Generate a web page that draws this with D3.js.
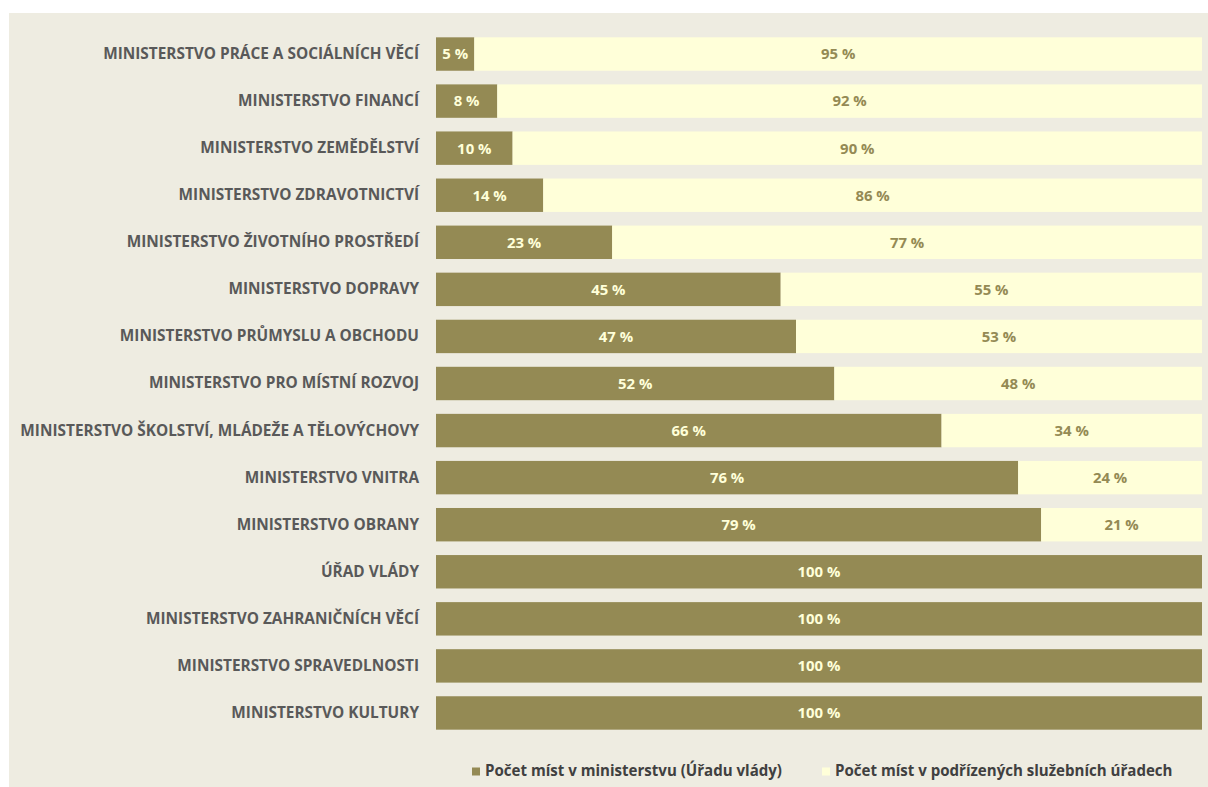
<!DOCTYPE html>
<html>
<head>
<meta charset="utf-8">
<script src="https://cdn.jsdelivr.net/npm/d3@7"></script>
<style>
  html, body { margin: 0; padding: 0; background: #ffffff; }
  svg { display: block; }
</style>
</head>
<body>
<svg id="chart" width="1208" height="787"></svg>
<script>
const categories = [
  "MINISTERSTVO PRÁCE A SOCIÁLNÍCH VĚCÍ",
  "MINISTERSTVO FINANCÍ",
  "MINISTERSTVO ZEMĚDĚLSTVÍ",
  "MINISTERSTVO ZDRAVOTNICTVÍ",
  "MINISTERSTVO ŽIVOTNÍHO PROSTŘEDÍ",
  "MINISTERSTVO DOPRAVY",
  "MINISTERSTVO PRŮMYSLU A OBCHODU",
  "MINISTERSTVO PRO MÍSTNÍ ROZVOJ",
  "MINISTERSTVO ŠKOLSTVÍ, MLÁDEŽE A TĚLOVÝCHOVY",
  "MINISTERSTVO VNITRA",
  "MINISTERSTVO OBRANY",
  "ÚŘAD VLÁDY",
  "MINISTERSTVO ZAHRANIČNÍCH VĚCÍ",
  "MINISTERSTVO SPRAVEDLNOSTI",
  "MINISTERSTVO KULTURY"
];
const ministryShare = [5, 8, 10, 14, 23, 45, 47, 52, 66, 76, 79, 100, 100, 100, 100];
const subordinateShare = [95, 92, 90, 86, 77, 55, 53, 48, 34, 24, 21, 0, 0, 0, 0];
const seriesNames = ["Počet míst v ministerstvu (Úřadu vlády)", "Počet míst v podřízených služebních úřadech"];
const xDomain = [0, 100];

const colDark = "#948A54", colLight = "#FFFFD9", bg = "#EEECE1";
const font = "'Open Sans', 'Noto Sans', sans-serif";

const svg = d3.select("#chart");
svg.append("rect").attr("x", 9).attr("y", 13).attr("width", 1199).attr("height", 774).attr("fill", bg);

// fit font size so the longest category label spans ~316px (as in the reference)
const probe = svg.append("text").attr("font-family", font).attr("font-weight", "bold")
  .attr("font-size", 14).text(categories[0]);
const probeW = probe.node().getComputedTextLength();
probe.remove();
const fs = 14 * 316 / probeW;

const x = d3.scaleLinear().domain(xDomain).range([436, 1202]);
const y = d3.scaleBand().domain(categories).range([30.5, 736.5]).paddingInner(0.29).paddingOuter(0.145);

const rows = categories.map((c, i) => ({ c, a: ministryShare[i], b: subordinateShare[i] }));

const g = svg.append("g");
g.selectAll("rect.a").data(rows).join("rect")
  .attr("x", x(0)).attr("y", d => y(d.c))
  .attr("width", d => x(d.a) - x(0)).attr("height", y.bandwidth())
  .attr("fill", colDark);
g.selectAll("rect.b").data(rows.filter(d => d.b > 0)).join("rect")
  .attr("x", d => x(d.a)).attr("y", d => y(d.c))
  .attr("width", d => x(d.a + d.b) - x(d.a)).attr("height", y.bandwidth())
  .attr("fill", colLight);

g.selectAll("text.a").data(rows).join("text")
  .attr("x", d => (x(0) + x(d.a)) / 2).attr("y", d => y(d.c) + y.bandwidth() / 2)
  .attr("dy", "0.36em").attr("text-anchor", "middle")
  .attr("font-family", font).attr("font-weight", "bold").attr("font-size", fs * 0.97)
  .attr("fill", colLight).text(d => d.a + " %");
g.selectAll("text.b").data(rows.filter(d => d.b > 0)).join("text")
  .attr("x", d => (x(d.a) + x(d.a + d.b)) / 2).attr("y", d => y(d.c) + y.bandwidth() / 2)
  .attr("dy", "0.36em").attr("text-anchor", "middle")
  .attr("font-family", font).attr("font-weight", "bold").attr("font-size", fs * 0.97)
  .attr("fill", colDark).text(d => d.b + " %");

const yAxis = d3.axisLeft(y).tickSize(0).tickPadding(17);
const ax = svg.append("g").attr("transform", `translate(${x(0)},0)`).call(yAxis);
ax.select(".domain").remove();
ax.selectAll("text").attr("font-family", font).attr("font-weight", "bold")
  .attr("font-size", fs).attr("fill", "#595959");

// legend
const leg = svg.append("g").attr("transform", "translate(0,771)");
const legItems = [{ name: seriesNames[0], col: colDark, x: 472 }, { name: seriesNames[1], col: colLight, x: 822 }];
legItems.forEach(it => {
  leg.append("rect").attr("x", it.x).attr("y", -3.5).attr("width", 8).attr("height", 8).attr("fill", it.col);
  leg.append("text").attr("x", it.x + 13).attr("y", 0).attr("dy", "0.36em")
    .attr("font-family", font).attr("font-weight", "bold").attr("font-size", fs * 0.98)
    .attr("fill", "#404040").text(it.name);
});
</script>
</body>
</html>
